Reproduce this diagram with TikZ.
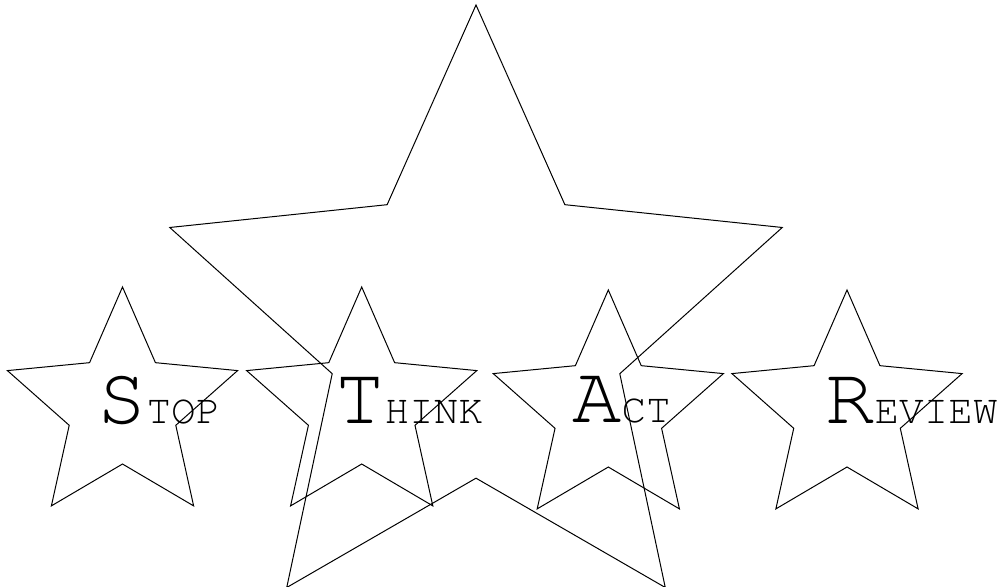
\documentclass[tikz,border=0pt]{standalone}
\usepackage[T1,TU]{fontenc}
\usepackage{tikz}
\usetikzlibrary{shapes.geometric}

\newcommand{\capword}[2]{{\fontsize{41}{41}\selectfont #1}{\fontsize{20.5}{20.5}\selectfont #2}}

\begin{document}
\begin{tikzpicture}[x=0.5pt,y=0.5pt,
    bigstar/.style={draw,star,star points=5,star point ratio=2.13,inner sep=0pt,line width=0.5pt,minimum size=322pt},
    smallstar/.style={draw,star,star points=5,star point ratio=2.16,inner sep=0pt,line width=0.5pt,minimum size=121pt},
    word/.style={anchor=base west,inner sep=0pt,font=\fontencoding{T1}\fontfamily{pcr}\selectfont}]
    \useasboundingbox (0,0) rectangle (1004,587);

    % Big star behind
    \node[bigstar] (big) at (476,260) {};

    % Small stars
    \node[smallstar] (stop) at (122.5,179) {};
    \node[smallstar] (think) at (361.7,179) {};
    \node[smallstar] (act) at (608.3,176) {};
    \node[smallstar] (review) at (847,176) {};

    % Words
    \node[word] (stoptext) at (97,163) {\capword{S}{TOP}};
    \node[word] (thinktext) at (335,163) {\capword{T}{HINK}};
    \node[word] (acttext) at (572,164) {\capword{A}{CT}};
    \node[word] (reviewtext) at (825,163) {\capword{R}{EVIEW}};
\end{tikzpicture}
\end{document}
